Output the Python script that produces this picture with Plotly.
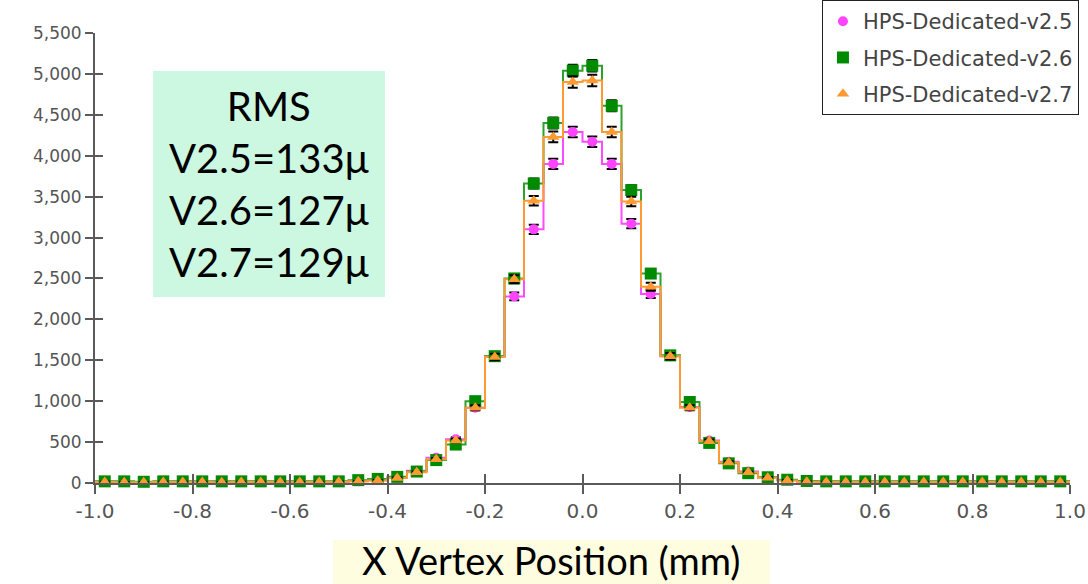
import numpy as np
import plotly.graph_objects as go

# ---------------- data ----------------
bin_low = -1.0
bin_width = 0.04
n_bins = 50

series_names = ["HPS-Dedicated-v2.5", "HPS-Dedicated-v2.6", "HPS-Dedicated-v2.7"]

counts_v25 = [15, 12, 10, 12, 15, 12, 15, 12, 15, 12, 15, 12, 15, 22, 35, 65, 150, 310, 535, 920,
              1550, 2280, 3100, 3900, 4290, 4170, 3900, 3170, 2310, 1550, 930, 520, 260, 140, 70,
              35, 18, 15, 12, 15, 12, 15, 12, 15, 12, 18, 12, 15, 12, 15]
counts_v26 = [20, 20, 15, 20, 20, 20, 20, 20, 20, 20, 20, 20, 20, 35, 50, 75, 140, 280, 470, 1000,
              1550, 2500, 3660, 4400, 5040, 5100, 4610, 3580, 2560, 1560, 990, 490, 240, 120, 70,
              40, 25, 20, 20, 20, 20, 20, 20, 20, 20, 20, 20, 20, 20, 20]
counts_v27 = [12, 10, 10, 12, 12, 12, 10, 12, 12, 12, 12, 12, 14, 20, 30, 60, 130, 290, 520, 920,
              1540, 2490, 3450, 4230, 4900, 4920, 4290, 3440, 2400, 1550, 920, 510, 250, 130, 65,
              30, 15, 12, 12, 12, 12, 12, 12, 12, 12, 12, 12, 12, 12, 12]

y_tick_vals = [0, 500, 1000, 1500, 2000, 2500, 3000, 3500, 4000, 4500, 5000, 5500]
x_tick_vals = [-1.0, -0.8, -0.6, -0.4, -0.2, 0.0, 0.2, 0.4, 0.6, 0.8, 1.0]
x_tick_text = ["-1.0", "-0.8", "-0.6", "-0.4", "-0.2", "0.0", "0.2", "0.4", "0.6", "0.8", "1.0"]

rms_lines = ["RMS", "V2.5=133\u03bc", "V2.6=127\u03bc", "V2.7=129\u03bc"]
x_title = "X Vertex Position (mm)"

# ---------------- styles ----------------
line_colors = ["#ff4cff", "#2ea02e", "#ff9a33"]
marker_colors = ["#ff44ff", "#008a00", "#ff9a33"]
marker_symbols = ["circle", "square", "triangle-up"]
marker_sizes = [10, 12, 11]

edges = bin_low + bin_width * np.arange(n_bins + 1)
centers = edges[:-1] + bin_width / 2

fig = go.Figure()
all_counts = [counts_v25, counts_v26, counts_v27]

# step outlines
for i, c in enumerate(all_counts):
    ys = list(c) + [c[-1]]
    fig.add_trace(go.Scatter(
        x=edges, y=ys, mode="lines", line=dict(color=line_colors[i], width=2, shape="hv"),
        showlegend=False, hoverinfo="skip", cliponaxis=False))

# markers with error bars
for i, c in enumerate(all_counts):
    arr = np.array(c, dtype=float)
    fig.add_trace(go.Scatter(
        x=centers, y=arr, mode="markers", name=series_names[i],
        legendgroup=series_names[i],
        marker=dict(symbol=marker_symbols[i], size=marker_sizes[i], color=marker_colors[i],
                    line=dict(width=0)),
        error_y=dict(type="data", array=np.sqrt(arr), color="black", thickness=2, width=5),
        cliponaxis=False))

# dummy trace for inside ticks overlay axes
fig.add_trace(go.Scatter(x=[None], y=[None], xaxis="x2", yaxis="y2", showlegend=False,
                         hoverinfo="skip", mode="markers"))

axis_color = "#5a5a5a"

fig.update_layout(
    width=1088, height=584,
    margin=dict(l=95, r=18, t=33, b=101, autoexpand=False),
    paper_bgcolor="white", plot_bgcolor="white",
    showlegend=True,
    legend=dict(x=0.7456, y=1.0733, xanchor="left", yanchor="top",
                bgcolor="white", bordercolor="#222222", borderwidth=1,
                font=dict(family="DejaVu Sans", size=21, color="#444444"),
                tracegroupgap=6, traceorder="grouped"),
    xaxis=dict(range=[-1.0, 1.0], tickvals=x_tick_vals, ticktext=x_tick_text,
               showgrid=False, zeroline=False, showline=True, linecolor=axis_color, linewidth=2,
               ticks="outside", ticklen=9, tickwidth=2, tickcolor=axis_color,
               tickfont=dict(family="DejaVu Sans", size=20, color="#555555")),
    yaxis=dict(range=[0, 5500], tickvals=y_tick_vals, tickformat=",d",
               showgrid=False, zeroline=False, showline=True, linecolor=axis_color, linewidth=2,
               ticks="outside", ticklen=8, tickwidth=2, tickcolor=axis_color,
               tickfont=dict(family="DejaVu Sans", size=17, color="#555555")),
    xaxis2=dict(range=[-1.0, 1.0], tickvals=x_tick_vals, overlaying="x", side="bottom",
                showticklabels=False, showgrid=False, zeroline=False, showline=False,
                ticks="inside", ticklen=9, tickwidth=2, tickcolor=axis_color),
    yaxis2=dict(range=[0, 5500], tickvals=y_tick_vals, overlaying="y", side="left",
                showticklabels=False, showgrid=False, zeroline=False, showline=False,
                ticks="inside", ticklen=8, tickwidth=2, tickcolor=axis_color),
)

# RMS box
fig.add_shape(type="rect", xref="paper", yref="paper", x0=0.0595, x1=0.2974, y0=0.4133, y1=0.9156,
              fillcolor="#ccf8e2", line=dict(width=0), layer="above")
fig.add_annotation(xref="paper", yref="paper", x=0.1785, y=0.6644, xanchor="center", yanchor="middle",
                   text="<br>".join(rms_lines), showarrow=False, align="center",
                   font=dict(family="Lato", size=40, color="black"))

# X title with pale yellow box
fig.add_shape(type="rect", xref="paper", yref="paper", x0=0.2441, x1=0.6923, y0=-0.2244, y1=-0.1267,
              fillcolor="#fffde0", line=dict(width=0))
fig.add_annotation(xref="paper", yref="paper", x=0.4682, y=-0.2244, xanchor="center", yanchor="bottom",
                   text=x_title, showarrow=False, borderpad=0,
                   font=dict(family="Lato", size=38, color="black"))

fig.write_html("out.html", config={"displayModeBar": False},
               post_script="document.body.style.margin='0';document.body.style.overflow='hidden';")
